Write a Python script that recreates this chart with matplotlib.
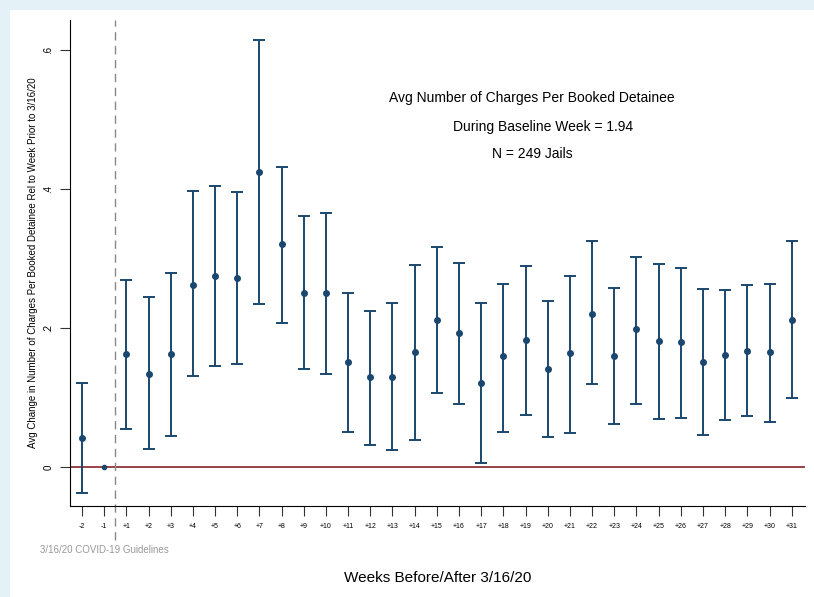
import numpy as np
import matplotlib.pyplot as plt

plt.rcParams['font.family'] = ['Liberation Sans', 'DejaVu Sans']

weeks = ['-2', '-1'] + [f'+{i}' for i in range(1, 32)]
est = [0.042, 0.0, 0.163, 0.134, 0.163, 0.262, 0.275, 0.272, 0.424, 0.321, 0.250, 0.250,
       0.151, 0.129, 0.129, 0.165, 0.212, 0.193, 0.121, 0.160, 0.183, 0.141, 0.164, 0.220,
       0.160, 0.199, 0.181, 0.180, 0.151, 0.161, 0.167, 0.165, 0.212]
upper = [0.121, 0.0, 0.269, 0.245, 0.279, 0.397, 0.404, 0.396, 0.614, 0.432, 0.361, 0.365,
         0.250, 0.224, 0.236, 0.290, 0.316, 0.293, 0.236, 0.263, 0.289, 0.239, 0.275, 0.325,
         0.258, 0.302, 0.292, 0.286, 0.256, 0.255, 0.262, 0.263, 0.325]
lower = [-0.037, 0.0, 0.055, 0.026, 0.045, 0.131, 0.145, 0.148, 0.235, 0.207, 0.141, 0.134,
         0.050, 0.032, 0.024, 0.039, 0.106, 0.091, 0.006, 0.050, 0.075, 0.043, 0.049, 0.119,
         0.062, 0.091, 0.069, 0.070, 0.046, 0.068, 0.073, 0.065, 0.099]

est = np.array(est)
x = np.arange(len(weeks))
yerr = [est - np.array(lower), np.array(upper) - est]

fig = plt.figure(figsize=(8.14, 5.97), dpi=100, facecolor='#e4f2f7')
# white panel behind the plot
bg = fig.add_axes([10 / 814, 0, 1 - 10 / 814, 1 - 10 / 597], zorder=-10)
bg.axis('off')
bg.add_patch(plt.Rectangle((0, 0), 1, 1, transform=bg.transAxes, color='white'))

ax = fig.add_axes([0.086, 1 - 506 / 597, 0.903, 486 / 597])
ax.set_facecolor('none')

navy = '#1a476f'
mask = x != 1
ax.errorbar(x[mask], est[mask], yerr=[yerr[0][mask], yerr[1][mask]], fmt='o', color=navy,
            ms=4, elinewidth=1.4, capsize=4, capthick=1.4, zorder=3)
ax.plot(x[1], est[1], 'o', color=navy, ms=3, zorder=3)
ax.axhline(0, color='#90353b', lw=1.3, zorder=2)
ax.axvline(1.5, ymin=-0.07, ymax=1, color='#888888', ls=(0, (6, 4)), lw=1, clip_on=False)

ax.set_xlim(-0.54, 32.6)
ax.set_ylim(-0.056, 0.643)
ax.set_xticks(x)
ax.set_xticklabels(weeks, fontsize=5)
ax.set_yticks([0, 0.2, 0.4, 0.6])
ax.set_yticklabels(['0', '.2', '.4', '.6'], rotation=90, va='center', fontsize=7)
ax.tick_params(length=7, color='#333333', pad=5)
for s in ['top', 'right']:
    ax.spines[s].set_visible(False)
ax.set_ylabel('Avg Change in Number of Charges Per Booked Detainee Rel to Week Prior to 3/16/20',
              fontsize=7)
ax.set_xlabel('Weeks Before/After 3/16/20', fontsize=11, labelpad=30)

ax.text(20.3, 0.525, 'Avg Number of Charges Per Booked Detainee', ha='center', fontsize=10)
ax.text(20.8, 0.483, 'During Baseline Week = 1.94', ha='center', fontsize=10)
ax.text(20.3, 0.445, 'N = 249 Jails', ha='center', fontsize=10)
fig.text(40 / 814, 1 - 553 / 597, '3/16/20 COVID-19 Guidelines', fontsize=7, color='#999999')

fig.savefig('out.png', dpi=100, facecolor=fig.get_facecolor())
